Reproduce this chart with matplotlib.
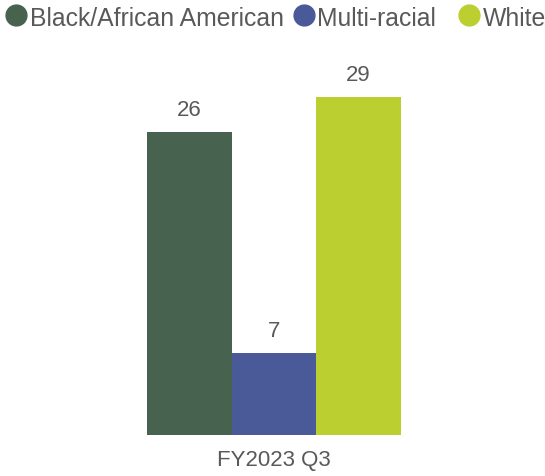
import matplotlib
matplotlib.use("Agg")
import matplotlib.pyplot as plt
from matplotlib.lines import Line2D

plt.rcParams['font.family'] = ['Liberation Sans', 'DejaVu Sans']

categories = ['Black/African American', 'Multi-racial', 'White']
values = [26, 7, 29]
colors = ['#476350', '#4a5a98', '#bccf31']
group_label = 'FY2023 Q3'
text_color = '#595959'

W, H = 545, 477
fig = plt.figure(figsize=(W / 100, H / 100), dpi=100)
ax = fig.add_axes([0, 41 / H, 1, 376 / H])

unit = 254 / 3
center = 274
xpos = [-1, 0, 1]
ax.bar(xpos, values, width=1.0, color=colors)
ax.set_xlim(-center / unit, (W - center) / unit)
ax.set_ylim(0, 376 / (303 / 26))

for x, v in zip(xpos, values):
    ax.annotate(str(v), (x, v), xytext=(0, 16.2), textcoords='offset points',
                ha='center', va='center', fontsize=16, color=text_color)

ax.annotate(group_label, (0, 0), xytext=(0, -17.6), textcoords='offset points',
            ha='center', va='center', fontsize=16, color=text_color)

for s in ax.spines.values():
    s.set_visible(False)
ax.set_xticks([])
ax.set_yticks([])

# legend drawn by hand so it runs off the right edge like the original
marker_x = [15.5, 304, 469]
text_x = [30, 317, 483]
ly = 1 - 16 / H
for mx, tx, c, lab in zip(marker_x, text_x, colors, categories):
    fig.add_artist(Line2D([mx / W], [ly], transform=fig.transFigure, marker='o',
                          markersize=15, markerfacecolor=c, markeredgecolor=c,
                          linestyle='none'))
    fig.text(tx / W, ly, lab, ha='left', va='center_baseline', fontsize=17.8,
             color=text_color)

fig.savefig('out.png', dpi=100)
